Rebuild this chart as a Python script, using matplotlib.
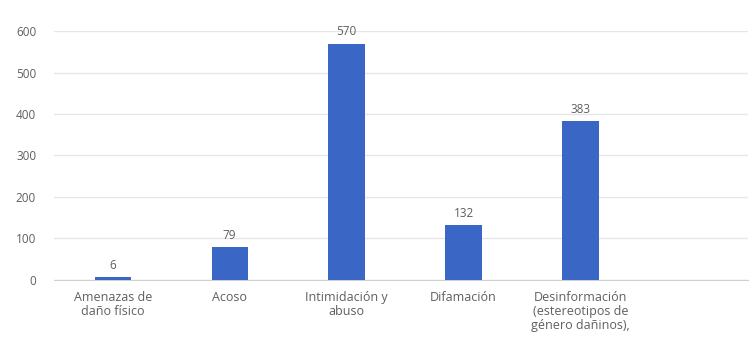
import matplotlib.pyplot as plt

categories = [
    "Amenazas de\ndaño físico",
    "Acoso",
    "Intimidación y\nabuso",
    "Difamación",
    "Desinformación\n(estereotipos de\ngénero dañinos),",
]
counts = [6, 79, 570, 132, 383]
y_ticks = [0, 100, 200, 300, 400, 500, 600]

BAR_COLOR = "#3a66c6"
TEXT_COLOR = "#5f5f5f"

plt.rcParams["font.family"] = ["Open Sans", "DejaVu Sans"]

fig = plt.figure(figsize=(7.53, 3.49), dpi=100)
ax = fig.add_axes([0.072, 0.198, 0.921, 0.713])

x = list(range(len(categories)))
bars = ax.bar(x, counts, width=0.31, color=BAR_COLOR, zorder=3)

for rect, val in zip(bars, counts):
    ax.annotate(str(val),
                (rect.get_x() + rect.get_width() / 2, rect.get_height()),
                xytext=(0, 4), textcoords="offset points",
                ha="center", va="bottom", fontsize=8.5,
                color=TEXT_COLOR, annotation_clip=False)

ax.set_xlim(-0.5, 5.43)
ax.set_ylim(0, 600)
ax.set_yticks(y_ticks)
ax.set_xticks(x)
ax.set_xticklabels(categories, linespacing=1.1)

ax.tick_params(axis="x", length=0, labelsize=9, labelcolor=TEXT_COLOR, pad=8)
ax.tick_params(axis="y", length=0, labelsize=8.5, labelcolor=TEXT_COLOR, pad=13)

ax.grid(axis="y", color="#e6e6e6", linewidth=1, zorder=0)
for side in ["top", "right", "left"]:
    ax.spines[side].set_visible(False)
ax.spines["bottom"].set_color("#d0d0d0")

fig.savefig("out.png", dpi=100)
